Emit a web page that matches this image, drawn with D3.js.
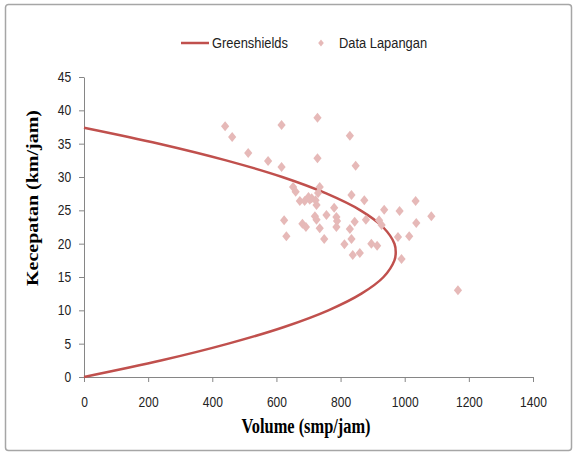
<!DOCTYPE html>
<html>
<head>
<meta charset="utf-8">
<script src="https://cdn.jsdelivr.net/npm/d3@7"></script>
<style>
  body { margin: 0; background: #fff; }
  text { font-family: "Liberation Sans", Arial, sans-serif; }
</style>
</head>
<body>
<svg width="577" height="455"></svg>
<script>
// Greenshields model line (volume smp/jam, speed km/jam)
var curveVolume = [0, 243, 450, 624, 762, 865, 934, 968, 972, 968, 932, 862, 757, 618, 443, 234, 0];
var curveSpeed  = [0, 2.5, 5, 7.5, 10, 12.5, 15, 17.5, 18.7, 20, 22.5, 25, 27.5, 30, 32.5, 35, 37.4];

// field data (Data Lapangan)
var fieldVolume = [440, 462, 512, 574, 616, 616, 728, 728, 829, 847,
                   652, 660, 735, 730, 673, 688, 704, 722, 725, 834,
                   874, 780, 936, 984, 756, 787, 720, 725, 789, 844,
                   879, 920, 928, 624, 681, 692, 735, 787, 829, 631,
                   749, 834, 812, 896, 914, 838, 860, 979, 1014, 990,
                   1034, 1083, 1036, 1166, 710, 700];
var fieldSpeed  = [37.6, 36.0, 33.6, 32.4, 37.8, 31.5, 38.9, 32.8, 36.2, 31.7,
                   28.5, 27.8, 28.5, 27.6, 26.4, 26.4, 26.6, 26.5, 25.8, 27.3,
                   26.5, 25.4, 25.1, 24.9, 24.3, 24.0, 24.1, 23.6, 23.4, 23.3,
                   23.6, 23.5, 22.8, 23.5, 23.0, 22.5, 22.3, 22.5, 22.2, 21.1,
                   20.7, 20.7, 19.9, 20.0, 19.7, 18.3, 18.6, 21.0, 21.1, 17.7,
                   26.4, 24.1, 23.1, 13.0, 26.8, 27.0];

var xTicks = [0, 200, 400, 600, 800, 1000, 1200, 1400];
var yTicks = [0, 5, 10, 15, 20, 25, 30, 35, 40, 45];

var svg = d3.select("svg");
var sx = 0.86; // text is a bit narrow in the picture

// chart border
svg.append("rect")
  .attr("x", 5.5).attr("y", 4.5)
  .attr("width", 566).attr("height", 446)
  .attr("rx", 3)
  .attr("fill", "#fff")
  .attr("stroke", "#a6a6a6")
  .attr("stroke-width", 1.5);

var x = d3.scaleLinear().domain([0, 1400]).range([84, 533]);
var y = d3.scaleLinear().domain([0, 45]).range([377, 77]);

// axes
var xAxis = svg.append("g")
  .attr("transform", "translate(0,377)")
  .call(d3.axisBottom(x).tickValues(xTicks).tickFormat(d3.format("d"))
    .tickSize(5).tickSizeOuter(0).tickPadding(15));
var yAxis = svg.append("g")
  .attr("transform", "translate(84,0)")
  .call(d3.axisLeft(y).tickValues(yTicks).tickFormat(d3.format("d"))
    .tickSize(5).tickSizeOuter(0).tickPadding(10));

[xAxis, yAxis].forEach(function(a) {
  a.select(".domain").attr("stroke", "#868686");
  a.selectAll(".tick line").attr("stroke", "#868686");
  a.selectAll(".tick text")
    .attr("fill", "#222")
    .style("font-size", "14px")
    .attr("transform", "scale(" + sx + ",1)");
});
yAxis.selectAll(".tick text").attr("x", -15);

// Greenshields curve
var pts = curveVolume.map(function(v, i) { return [v, curveSpeed[i]]; });
svg.append("path")
  .datum(pts)
  .attr("fill", "none")
  .attr("stroke", "#c0504d")
  .attr("stroke-width", 2.5)
  .attr("d", d3.line()
    .x(function(d) { return x(d[0]); })
    .y(function(d) { return y(d[1]); })
    .curve(d3.curveCatmullRom));

// field points
var diamond = d3.symbol().type(d3.symbolSquare).size(50);
svg.append("g")
  .selectAll("path")
  .data(fieldVolume)
  .enter()
  .append("path")
    .attr("d", diamond)
    .attr("transform", function(d, i) {
      return "translate(" + x(d) + "," + y(fieldSpeed[i]) + ") scale(0.82,1) rotate(45)";
    })
    .attr("fill", "#e6b9b8");

// legend
svg.append("line")
  .attr("x1", 181).attr("x2", 209).attr("y1", 43).attr("y2", 43)
  .attr("stroke", "#c0504d").attr("stroke-width", 2.5);
svg.append("text")
  .attr("transform", "translate(212,48) scale(" + sx + ",1)")
  .style("font-size", "15px").attr("fill", "#222")
  .text("Greenshields");
svg.append("path")
  .attr("d", d3.symbol().type(d3.symbolSquare).size(24))
  .attr("transform", "translate(321,43) scale(0.82,1) rotate(45)")
  .attr("fill", "#e6b9b8");
svg.append("text")
  .attr("transform", "translate(339,48) scale(" + sx + ",1)")
  .style("font-size", "15px").attr("fill", "#222")
  .text("Data Lapangan");

// axis titles
svg.append("text")
  .attr("transform", "translate(306,433) scale(0.82,1)")
  .attr("text-anchor", "middle")
  .style("font-family", "'Liberation Serif', 'Times New Roman', serif")
  .style("font-weight", "bold")
  .style("font-size", "20px")
  .text("Volume (smp/jam)");
svg.append("text")
  .attr("transform", "translate(38,198) scale(0.82,1) rotate(-90)")
  .attr("text-anchor", "middle")
  .style("font-family", "'Liberation Serif', 'Times New Roman', serif")
  .style("font-weight", "bold")
  .style("font-size", "20px")
  .text("Kecepatan (km/jam)");
</script>
</body>
</html>
